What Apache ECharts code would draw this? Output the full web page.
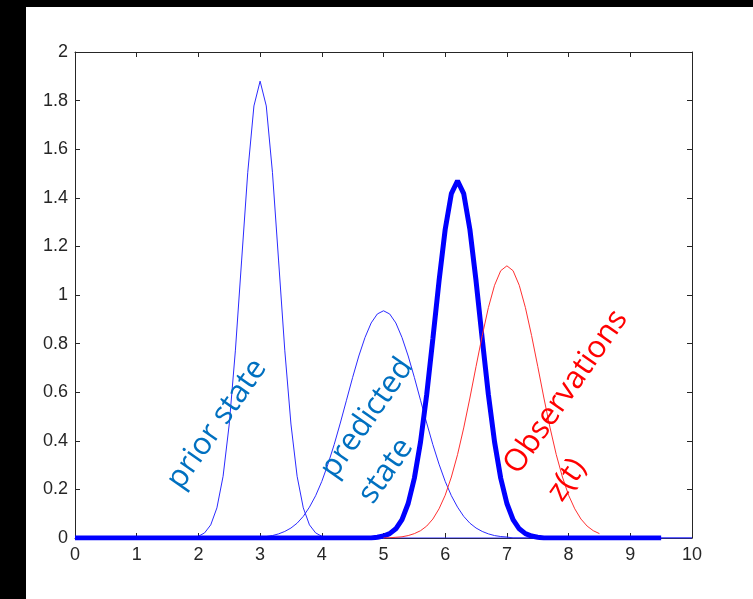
<!DOCTYPE html>
<html>
<head>
<meta charset="utf-8">
<title>prior / predicted / observations</title>
<script src="https://cdn.jsdelivr.net/npm/echarts@6/dist/echarts.min.js"></script>
<style>
html, body { margin: 0; padding: 0; background: #000; width: 753px; height: 599px; overflow: hidden; }
#main { position: absolute; left: 26px; top: 7px; width: 727px; height: 592px; background: #fff; }
</style>
</head>
<body>
<div id="main"></div>
<script>
// curves, [x, y]
var priorState = [[0,0],[1.9,0],[2.0,0.007],[2.1,0.021],[2.2,0.054],[2.3,0.124],[2.4,0.254],[2.5,0.469],
    [2.6,0.773],[2.7,1.14],[2.8,1.505],[2.9,1.778],[3.0,1.88],[3.1,1.778],[3.2,1.505],[3.3,1.14],
    [3.4,0.773],[3.5,0.469],[3.6,0.254],[3.7,0.124],[3.8,0.054],[3.9,0.021],[4.0,0.007],[4.1,0],[10,0]];

var predictedState = [[0,0],[2.9,0],[3.0,0.004],[3.1,0.006],[3.2,0.010],[3.3,0.017],[3.4,0.027],[3.5,0.041],
    [3.6,0.061],[3.7,0.089],[3.8,0.127],[3.9,0.174],[4.0,0.233],[4.1,0.304],[4.2,0.384],[4.3,0.473],
    [4.4,0.567],[4.5,0.661],[4.6,0.749],[4.7,0.825],[4.8,0.885],[4.9,0.922],[5.0,0.935],[5.1,0.922],
    [5.2,0.885],[5.3,0.825],[5.4,0.749],[5.5,0.661],[5.6,0.567],[5.7,0.473],[5.8,0.384],[5.9,0.304],
    [6.0,0.233],[6.1,0.174],[6.2,0.127],[6.3,0.089],[6.4,0.061],[6.5,0.041],[6.6,0.027],[6.7,0.017],
    [6.8,0.010],[6.9,0.006],[7.0,0.004],[7.1,0],[10,0]];

var correctedState = [[0,0],[4.8,0],[4.9,0.003],[5.0,0.008],[5.1,0.018],[5.2,0.038],[5.3,0.076],[5.4,0.142],
    [5.5,0.246],[5.6,0.395],[5.7,0.590],[5.8,0.820],[5.9,1.058],[6.0,1.270],[6.1,1.417],[6.2,1.47],
    [6.3,1.417],[6.4,1.270],[6.5,1.058],[6.6,0.820],[6.7,0.590],[6.8,0.395],[6.9,0.246],[7.0,0.142],
    [7.1,0.076],[7.2,0.038],[7.3,0.018],[7.4,0.008],[7.5,0.003],[7.6,0],[9.5,0]];

var observations = [[5.0,0],[5.1,0.001],[5.2,0.003],[5.3,0.005],[5.4,0.010],[5.5,0.018],[5.6,0.030],[5.7,0.049],
    [5.8,0.078],[5.9,0.120],[6.0,0.176],[6.1,0.251],[6.2,0.343],[6.3,0.453],[6.4,0.576],[6.5,0.706],
    [6.6,0.833],[6.7,0.948],[6.8,1.040],[6.9,1.100],[7.0,1.12],[7.1,1.100],[7.2,1.040],[7.3,0.948],
    [7.4,0.833],[7.5,0.706],[7.6,0.576],[7.7,0.453],[7.8,0.343],[7.9,0.251],[8.0,0.176],[8.1,0.120],
    [8.2,0.078],[8.3,0.049],[8.4,0.030],[8.5,0.018]];

var myChart = echarts.init(document.getElementById("main"));

var axisColor = '#262626';
var tickFont = 'Liberation Sans, Arial, sans-serif';
var labelFont = '"Open Sans", "Noto Sans", sans-serif';
var rot = 55 * Math.PI / 180;

function line(data, color, width) {
    return {
        type: 'line',
        data: data,
        showSymbol: false,
        symbol: 'none',
        animation: false,
        lineStyle: { color: color, width: width },
        itemStyle: { color: color }
    };
}

function label(text, x, y, color) {
    return {
        type: 'text',
        x: x, y: y,
        rotation: rot,
        z: 100,
        style: {
            text: text,
            fill: color,
            font: '31px ' + labelFont,
            textAlign: 'center',
            textVerticalAlign: 'middle'
        }
    };
}

option = {
    backgroundColor: '#fff',
    animation: false,
    grid: { left: 49, right: 61, top: 45, bottom: 61 },
    xAxis: [
        {
            type: 'value', min: 0, max: 10, interval: 1, position: 'bottom',
            axisLine: { onZero: false, lineStyle: { color: axisColor, width: 1 } },
            axisTick: { inside: true, length: 5, lineStyle: { color: axisColor } },
            axisLabel: { color: axisColor, fontSize: 18, fontFamily: tickFont, margin: 8 },
            splitLine: { show: false }
        },
        {
            type: 'value', min: 0, max: 10, interval: 1, position: 'top',
            axisLine: { onZero: false, lineStyle: { color: axisColor, width: 1 } },
            axisTick: { inside: true, length: 5, lineStyle: { color: axisColor } },
            axisLabel: { show: false },
            splitLine: { show: false }
        }
    ],
    yAxis: [
        {
            type: 'value', min: 0, max: 2, interval: 0.2, position: 'left',
            axisLine: { onZero: false, lineStyle: { color: axisColor, width: 1 } },
            axisTick: { inside: true, length: 5, lineStyle: { color: axisColor } },
            axisLabel: { color: axisColor, fontSize: 18, fontFamily: tickFont, margin: 7 },
            splitLine: { show: false }
        },
        {
            type: 'value', min: 0, max: 2, interval: 0.2, position: 'right',
            axisLine: { onZero: false, lineStyle: { color: axisColor, width: 1 } },
            axisTick: { inside: true, length: 5, lineStyle: { color: axisColor } },
            axisLabel: { show: false },
            splitLine: { show: false }
        }
    ],
    series: [
        line(priorState, '#2b2bff', 1),
        line(predictedState, '#2b2bff', 1),
        line(correctedState, '#0000ff', 5),
        line(observations, '#ff3030', 1)
    ],
    graphic: [
        label('prior state', 191, 417, '#0070c0'),
        label('predicted', 341, 411, '#0070c0'),
        label('state', 360, 464, '#0070c0'),
        label('Observations', 540, 385, '#ff0000'),
        label('z(t)', 541, 473, '#ff0000')
    ]
};

myChart.setOption(option);
</script>
</body>
</html>
